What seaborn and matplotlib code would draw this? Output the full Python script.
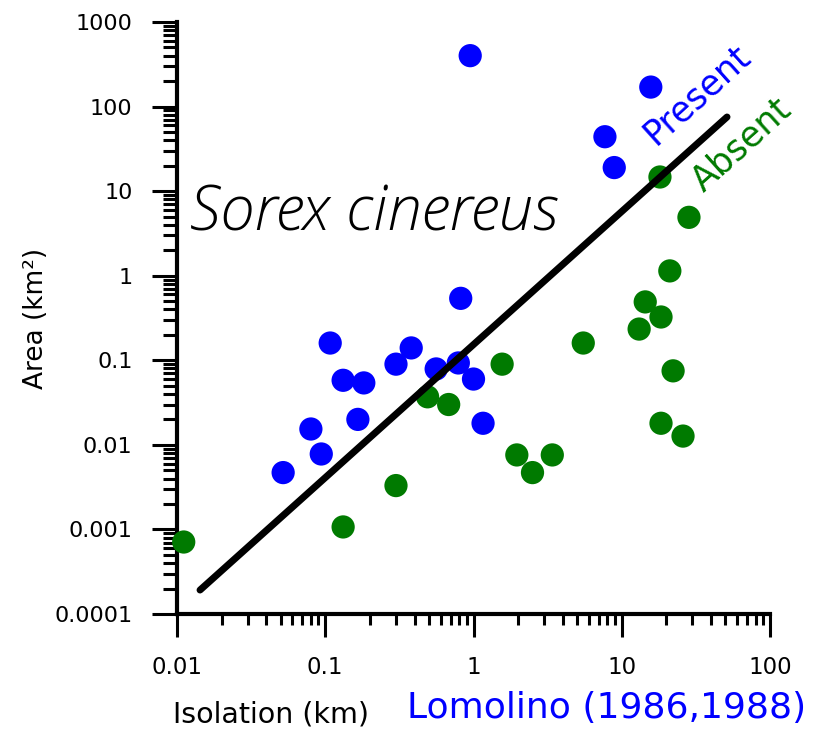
import matplotlib
matplotlib.use("Agg")
import matplotlib.pyplot as plt
import matplotlib.ticker as mticker
from matplotlib import font_manager
import numpy as np
import pandas as pd
import seaborn as sns

# Islands where the masked shrew was recorded
present_isolation = [0.95, 15.7, 7.7, 8.9, 0.82, 0.108, 0.38, 0.30, 0.132,
                     0.182, 0.56, 0.79, 1.0, 1.16, 0.166, 0.080, 0.094, 0.052]
present_area = [400, 170, 44, 19, 0.54, 0.16, 0.14, 0.090, 0.058,
                0.054, 0.079, 0.093, 0.060, 0.018, 0.020, 0.0154, 0.0078, 0.0047]

# Islands where it was not found
absent_isolation = [18.1, 28.4, 21.1, 14.4, 18.4, 13.1, 22.2, 18.4, 25.9,
                    5.5, 1.56, 0.49, 0.68, 1.96, 3.4, 2.5, 0.30, 0.132, 0.0111]
absent_area = [14.7, 4.9, 1.14, 0.49, 0.325, 0.234, 0.075, 0.018, 0.0127,
               0.16, 0.090, 0.037, 0.030, 0.0076, 0.0076, 0.0047, 0.0033, 0.00107, 0.00071]

# Incidence boundary line
boundary_isolation = [0.0143, 51.3]
boundary_area = [0.000192, 75.3]

x_ticks = [0.01, 0.1, 1, 10, 100]
x_tick_labels = ["0.01", "0.1", "1", "10", "100"]
y_ticks = [0.0001, 0.001, 0.01, 0.1, 1, 10, 100, 1000]
y_tick_labels = ["0.0001", "0.001", "0.01", "0.1", "1", "10", "100", "1000"]

df = pd.DataFrame({
    "isolation": present_isolation + absent_isolation,
    "area": present_area + absent_area,
    "status": ["Present"] * len(present_isolation) + ["Absent"] * len(absent_isolation),
})

sns.set_theme(style="white")
plt.rcParams["font.family"] = ["DejaVu Sans"]
plt.rcParams["text.color"] = "black"
plt.rcParams["axes.labelcolor"] = "black"
plt.rcParams["xtick.color"] = "black"
plt.rcParams["ytick.color"] = "black"


def thin_font():
    """Pick a light-weight, normal-width (ideally italic) face for the species name."""
    preferred = ["Open Sans", "Roboto", "Noto Sans", "Inter", "Lato", "DejaVu Sans"]
    fonts = font_manager.fontManager.ttflist

    def weight(f):
        w = f.weight
        if isinstance(w, str):
            w = font_manager.weight_dict.get(w, 400)
        return w

    def normal_width(f):
        s = f.stretch
        if isinstance(s, str):
            s = font_manager.stretch_dict.get(s, 500)
        name = f.fname.lower()
        return s == 500 and "condensed" not in name and "narrow" not in name

    for want_italic in (True, False):
        for fam in preferred:
            cands = [f for f in fonts if f.name == fam and weight(f) <= 300
                     and normal_width(f)
                     and ((f.style != "normal") == want_italic)]
            if cands:
                cands.sort(key=lambda f: -weight(f))
                return font_manager.FontProperties(fname=cands[0].fname), want_italic
    return None, False


BLUE = "#0000ff"
GREEN = "#007a00"

fig = plt.figure(figsize=(8.19, 7.32), dpi=100)
ax = fig.add_axes([177 / 819, 1 - 614 / 732, 593 / 819, 592 / 732])
ax.set_xscale("log")
ax.set_yscale("log")

sns.scatterplot(data=df, x="isolation", y="area", hue="status",
                palette={"Present": BLUE, "Absent": GREEN},
                s=280, linewidth=0, legend=False, ax=ax, zorder=3, clip_on=False)
sns.lineplot(x=boundary_isolation, y=boundary_area, color="black", lw=5,
             ax=ax, zorder=4, estimator=None, sort=False)

ax.set_xlim(0.01, 100)
ax.set_ylim(0.0001, 1000)

for side in ["top", "right"]:
    ax.spines[side].set_visible(False)
for side in ["left", "bottom"]:
    ax.spines[side].set_color("black")
    ax.spines[side].set_linewidth(3)

ax.xaxis.set_major_locator(mticker.FixedLocator(x_ticks))
ax.xaxis.set_major_formatter(mticker.FixedFormatter(x_tick_labels))
ax.yaxis.set_major_locator(mticker.FixedLocator(y_ticks))
ax.yaxis.set_major_formatter(mticker.FixedFormatter(y_tick_labels))
ax.xaxis.set_minor_locator(mticker.LogLocator(base=10, subs=np.arange(2, 10), numticks=20))
ax.yaxis.set_minor_locator(mticker.LogLocator(base=10, subs=np.arange(2, 10), numticks=20))
ax.xaxis.set_minor_formatter(mticker.NullFormatter())
ax.yaxis.set_minor_formatter(mticker.NullFormatter())

ax.tick_params(axis="y", which="major", direction="out", length=18, width=2.2,
               color="black", labelcolor="black", pad=14, labelsize=16, left=True)
ax.tick_params(axis="y", which="minor", direction="out", length=10, width=2.2,
               color="black", left=True)
ax.tick_params(axis="x", which="major", direction="out", length=16.5, width=2.2,
               color="black", labelcolor="black", pad=14, labelsize=16.5, bottom=True)
ax.tick_params(axis="x", which="minor", direction="out", length=8, width=2.2,
               color="black", bottom=True)
ax.grid(False)

ax.set_ylabel("Area (km²)", fontsize=19, color="black", labelpad=4)
ax.set_xlabel("Isolation (km)", fontsize=20.5, color="black")
ax.xaxis.set_label_coords((271 - 177) / 593, (614 - 700) / 592)

ax.text((607 - 177) / 593, (614 - 708) / 592, "Lomolino (1986,1988)",
        transform=ax.transAxes, ha="center", va="center", fontsize=26, color=BLUE)

species_font, has_italic = thin_font()
species_kw = dict(transform=ax.transAxes, ha="left", va="center", color="black")
if species_font is not None:
    species_font.set_size(37)
    species_kw["fontproperties"] = species_font
    if not has_italic:
        species_kw["style"] = "oblique"
else:
    species_kw.update(fontsize=36, style="oblique")
species = ax.text(0.022, (614 - 214) / 592, "Sorex cinereus", **species_kw)

# Widen the species name so it fills the space left of the boundary line
fig.canvas.draw()
bbox = species.get_window_extent()
target_width = 400.0
if bbox.width > 0 and abs(bbox.width - target_width) > 15:
    scale = min(target_width / bbox.width, 1.2)
    species.set_fontsize(species.get_fontsize() * scale)

ax.text((697 - 177) / 593, (614 - 95) / 592, "Present", transform=ax.transAxes,
        ha="center", va="center", rotation=42, rotation_mode="anchor",
        fontsize=25, color=BLUE)
ax.text((742 - 177) / 593, (614 - 145) / 592, "Absent", transform=ax.transAxes,
        ha="center", va="center", rotation=42, rotation_mode="anchor",
        fontsize=25, color=GREEN)

fig.savefig("out.png", dpi=100, facecolor="white")
